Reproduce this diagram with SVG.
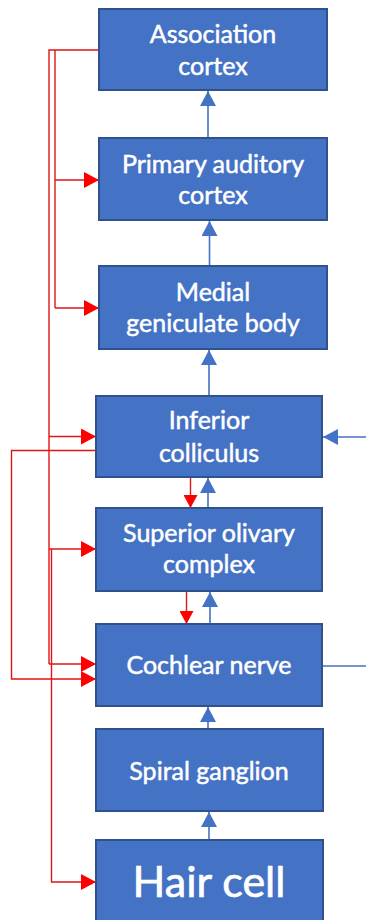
<svg xmlns="http://www.w3.org/2000/svg" width="366" height="920" viewBox="0 0 366 920">
  <style>
    .box { fill: #4472C4; stroke: #2F528F; stroke-width: 2; }
    .lbl { fill: #ffffff; stroke: #ffffff; stroke-width: 0.5; font-family: Lato, "Open Sans", "Liberation Sans", sans-serif; font-size: 25px; text-anchor: middle; }
    .big { font-size: 43px; stroke-width: 0.7; }
    .up { fill: none; stroke: #4472C4; stroke-width: 1.6; marker-end: url(#headBlue); }
    .plain { fill: none; stroke: #4472C4; stroke-width: 1.6; }
    .fb { fill: none; stroke: #e01515; stroke-width: 1.4; }
    .fba { fill: none; stroke: #e01515; stroke-width: 1.4; marker-end: url(#headRed); }
    .down { fill: none; stroke: #e01515; stroke-width: 1.4; marker-end: url(#headRedSmall); }
  </style>
  <defs>
    <marker id="headBlue" markerUnits="userSpaceOnUse" markerWidth="16" markerHeight="16" refX="15" refY="8" orient="auto">
      <path d="M0,0 L15,8 L0,16 z" fill="#4472C4"/>
    </marker>
    <marker id="headRed" markerUnits="userSpaceOnUse" markerWidth="16" markerHeight="16" refX="15" refY="8" orient="auto">
      <path d="M0,0 L15,8 L0,16 z" fill="#ff0000"/>
    </marker>
    <marker id="headRedSmall" markerUnits="userSpaceOnUse" markerWidth="14" markerHeight="14" refX="13" refY="7" orient="auto">
      <path d="M0,0 L13,7 L0,14 z" fill="#ff0000"/>
    </marker>
  </defs>

  <!-- connectors -->
  <g id="connectors">
    <!-- ascending pathway -->
    <path class="up" d="M208,138 V91"/>
    <path class="up" d="M209.5,266 V221"/>
    <path class="up" d="M209,396 V350"/>
    <path class="up" d="M208,508 V478"/>
    <path class="up" d="M210,624 V592"/>
    <path class="up" d="M208,729 V707"/>
    <path class="up" d="M209,840 V812"/>
    <path class="up" d="M366,437 H323"/>
    <path class="plain" d="M323,666 H366"/>

    <!-- descending pathway -->
    <path class="down" d="M190.5,477 V508"/>
    <path class="down" d="M186.5,591 V624"/>

    <!-- descending from association cortex -->
    <path class="fb" d="M104,50 H49 V664"/>
    <path class="fb" d="M55,50 V308"/>
    <path class="fba" d="M55,180 H99"/>
    <path class="fba" d="M55,308 H99"/>
    <path class="fba" d="M49,436.5 H96"/>
    <path class="fba" d="M49,549 H96"/>
    <path class="fba" d="M49,664 H96"/>
    <path class="fba" d="M51.5,549 V882 H96"/>

    <!-- descending from inferior colliculus -->
    <path class="fba" d="M100,450.5 H11.5 V679 H96"/>
  </g>

  <!-- nodes -->
  <g id="association-cortex">
    <rect class="box" x="99" y="9" width="228" height="81"/>
    <text class="lbl" x="213" y="43">Association</text>
    <text class="lbl" x="213" y="75">cortex</text>
  </g>
  <g id="primary-auditory-cortex">
    <rect class="box" x="99" y="138" width="228" height="82"/>
    <text class="lbl" x="213" y="173">Primary auditory</text>
    <text class="lbl" x="213" y="204">cortex</text>
  </g>
  <g id="medial-geniculate-body">
    <rect class="box" x="99" y="266" width="228" height="83"/>
    <text class="lbl" x="213" y="301">Medial</text>
    <text class="lbl" x="213" y="332">geniculate body</text>
  </g>
  <g id="inferior-colliculus">
    <rect class="box" x="96" y="396" width="226" height="81"/>
    <text class="lbl" x="209" y="429">Inferior</text>
    <text class="lbl" x="209" y="462">colliculus</text>
  </g>
  <g id="superior-olivary-complex">
    <rect class="box" x="96" y="508" width="226" height="83"/>
    <text class="lbl" x="209" y="542">Superior olivary</text>
    <text class="lbl" x="209" y="573">complex</text>
  </g>
  <g id="cochlear-nerve">
    <rect class="box" x="96" y="624" width="226" height="82"/>
    <text class="lbl" x="209" y="674">Cochlear nerve</text>
  </g>
  <g id="spiral-ganglion">
    <rect class="box" x="96" y="729" width="227" height="82"/>
    <text class="lbl" x="209" y="780">Spiral ganglion</text>
  </g>
  <g id="hair-cell">
    <rect class="box" x="96" y="840" width="227" height="90"/>
    <text class="lbl big" x="209" y="897">Hair cell</text>
  </g>
</svg>
